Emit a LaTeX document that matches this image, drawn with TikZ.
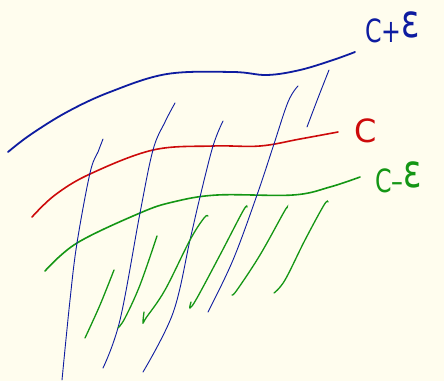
\documentclass[tikz,border=0pt]{standalone}
\usepackage{fontspec}
\newfontfamily\hand{DejaVu Sans}
\definecolor{bg}{RGB}{255,253,238}
\definecolor{pblue}{RGB}{14,28,160}
\definecolor{pred}{RGB}{205,10,10}
\definecolor{pgreen}{RGB}{20,150,20}
\newcommand{\bigeps}{\raisebox{5pt}{\fontsize{46}{48}\selectfont ε}}
\tikzset{
  bigblue/.style={pblue,line width=1.8pt,line cap=round},
  thinblue/.style={pblue,line width=0.9pt,line cap=round},
  redline/.style={pred,line width=1.6pt,line cap=round},
  greenline/.style={pgreen,line width=1.6pt,line cap=round},
  hatch/.style={pgreen,line width=1.3pt,line cap=round},
  lbl/.style={font=\hand\fontsize{32}{34}\selectfont,inner sep=0pt}
}
\begin{document}
\begin{tikzpicture}[x=1pt,y=-1pt]
\fill[bg] (0,0) rectangle (444,381);
\useasboundingbox (0,0) rectangle (444,381);
% top blue curve
\draw[bigblue] plot[smooth,tension=0.6] coordinates {(8,152) (30,135) (67,112) (110,92) (167,74) (233,72) (267,75) (300,70) (333,60) (355,52)};
% red curve
\draw[redline] plot[smooth,tension=0.6] coordinates {(32,217) (55,195) (90,174) (153,150) (213,146) (260,146) (300,139) (338,132)};
% green curve
\draw[greenline] plot[smooth,tension=0.6] coordinates {(45,271) (77,243) (140,213) (173,202) (217,195) (293,195) (330,187) (360,177)};
% thin blue lines
\draw[thinblue] plot[smooth,tension=0.6] coordinates {(103,139) (98,152) (90,173) (77,243) (70,300) (62,380)};
\draw[thinblue] plot[smooth,tension=0.6] coordinates {(175,103) (165,122) (153,150) (140,213) (120,320) (103,368)};
\draw[thinblue] plot[smooth,tension=0.6] coordinates {(223,121) (213,146) (200,197) (190,240) (173,313) (143,372)};
\draw[thinblue] plot[smooth,tension=0.6] coordinates {(298,86) (288,102) (273,147) (257,195) (233,260) (208,312)};
\draw[thinblue] plot[smooth,tension=0.6] coordinates {(329,70) (318,98) (307,127)};
% green hatches
\draw[hatch] plot[smooth,tension=0.6] coordinates {(114,270) (100,305) (85,338)};
\draw[hatch] plot[smooth,tension=0.6] coordinates {(157,236) (140,285) (125,318) (118,328)};
\draw[hatch] plot[smooth,tension=0.6] coordinates {(208,216) (204,218) (190,240) (165,290) (146,318) (143,323) (144,312)};
\draw[hatch] plot[smooth,tension=0.6] coordinates {(247,207) (243,211) (220,255) (197,298) (190,308) (191,302)};
\draw[hatch] plot[smooth,tension=0.6] coordinates {(287,208) (284,212) (260,255) (237,290) (232,295)};
\draw[hatch] plot[smooth,tension=0.6] coordinates {(328,202) (324,205) (305,240) (285,280) (274,293)};
% labels
\node[lbl,pblue,anchor=base west,xscale=0.74] (lp) at (365,42) {C+\bigeps};
\node[lbl,pred,anchor=base west] (lc) at (354,142) {C};
\node[lbl,pgreen,anchor=base west,xscale=0.74] (lm) at (375,192) {C–\bigeps};
\end{tikzpicture}
\end{document}
